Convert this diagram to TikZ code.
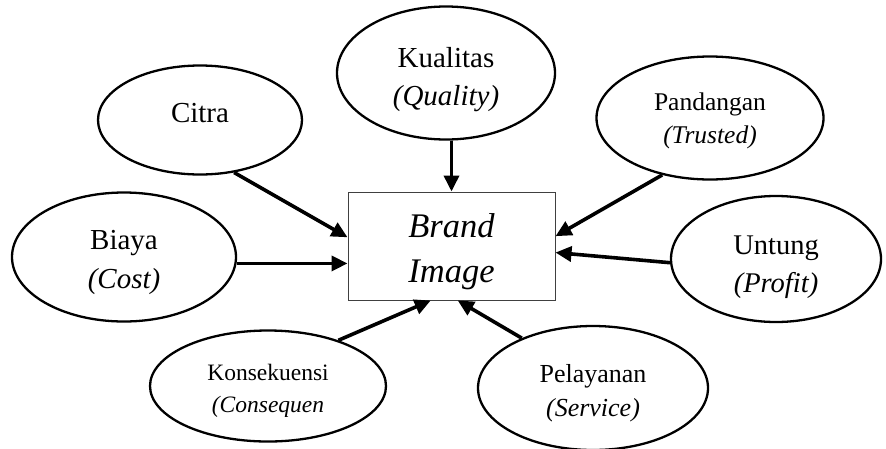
\documentclass[tikz,border=0pt]{standalone}
\usepackage{fontspec}
\setmainfont{Liberation Serif}
\usetikzlibrary{shapes.geometric,arrows.meta,calc}
% first baseline placed #1 above the node centre
\newcommand\ovaltext[2]{\makebox[0pt]{\raisebox{#1}[0pt][0pt]{\begin{tabular}[t]{@{}c@{}}#2\end{tabular}}}}
\tikzset{
  oval/.style={ellipse, draw=black, line width=2.3pt, inner sep=0pt},
  brandbox/.style={rectangle, draw=black!75, line width=1pt, inner sep=0pt},
  link/.style={line width=3.6pt, -{Triangle[length=16pt,width=15pt]}}
}
\begin{document}
\begin{tikzpicture}[x=1pt,y=-1pt]
\useasboundingbox (0,0) rectangle (886,448);
\node[brandbox, minimum width=207pt, minimum height=108pt,
  font=\fontsize{34.5}{45}\selectfont\itshape] (box) at (451.5,246) {\ovaltext{9pt}{Brand\\Image}};
\node[oval, minimum width=218pt, minimum height=133pt,
  font=\fontsize{29}{38}\selectfont] (kual) at (446,73) {\ovaltext{6pt}{Kualitas\\\textit{(Quality)}}};
\node[oval, minimum width=204pt, minimum height=109pt,
  font=\fontsize{29}{36}\selectfont] (citra) at (200,120) {\ovaltext{-2pt}{Citra}};
\node[oval, minimum width=227pt, minimum height=123pt,
  font=\fontsize{25.5}{33}\selectfont] (pand) at (710,118) {\ovaltext{8pt}{Pandangan\\\textit{(Trusted)}}};
\node[oval, minimum width=224pt, minimum height=129pt,
  font=\fontsize{29}{39}\selectfont] (biaya) at (124,257) {\ovaltext{8pt}{Biaya\\\textit{(Cost)}}};
\node[oval, minimum width=210pt, minimum height=126pt,
  font=\fontsize{28.5}{38}\selectfont] (untung) at (776,259) {\ovaltext{5pt}{Untung\\\textit{(Profit)}}};
\node[oval, minimum width=236pt, minimum height=111pt,
  font=\fontsize{23.5}{32}\selectfont] (kons) at (268,386) {\ovaltext{6pt}{Konsekuensi\\\textit{(Consequen}}};
\node[oval, minimum width=230pt, minimum height=124pt,
  font=\fontsize{26}{34}\selectfont] (pel) at (593,388) {\ovaltext{6pt}{Pelayanan\\\textit{(Service)}}};
% targets on the box
\coordinate (tcitra) at ($(box.north west)!0.42!(box.south west)$);
\coordinate (tbiaya) at ($(box.north west)!0.66!(box.south west)$);
\coordinate (tkons) at ($(box.south west)!0.40!(box.south east)$);
\coordinate (tpel) at ($(box.south west)!0.53!(box.south east)$);
\coordinate (tunt) at ($(box.north east)!0.56!(box.south east)$);
\coordinate (tpand) at ($(box.north east)!0.41!(box.south east)$);
\draw[link] (kual.south -| box.north) -- (box.north);
\draw[link] (citra.-57) -- (tcitra);
\draw[link] (tbiaya -| biaya.east) -- (tbiaya);
\draw[link] (kons.33) -- (tkons);
\draw[link] (pel.145) -- (tpel);
\draw[link] (untung.182) -- (tunt);
\draw[link] (pand.230) -- (tpand);
\end{tikzpicture}
\end{document}
